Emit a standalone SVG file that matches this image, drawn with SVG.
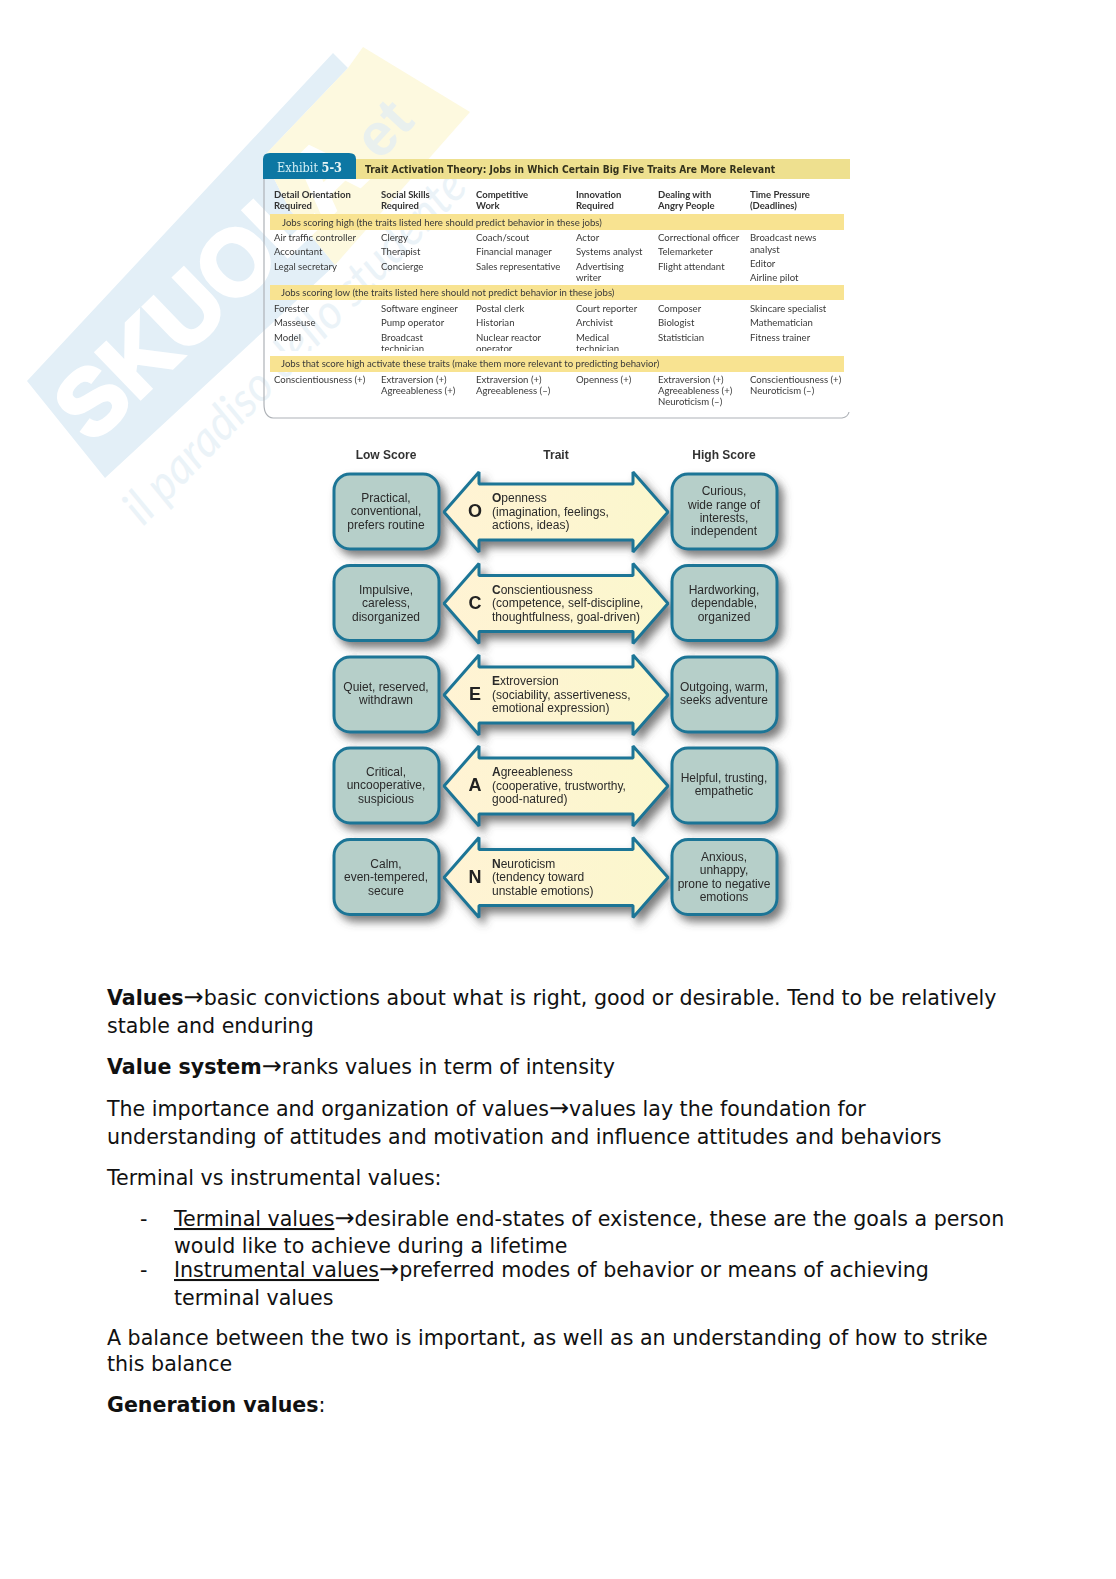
<svg xmlns="http://www.w3.org/2000/svg" width="1116" height="1579" viewBox="0 0 1116 1579">
<style>
.b{font:20.58px "DejaVu Sans",sans-serif;fill:#111}
.bb{font-weight:700}
.u{text-decoration:underline}
.ar{font-size:24px}
.t{font:9.6px Lato,"Liberation Sans",sans-serif;fill:#3a3a3a}
.th{font:bold 9.5px Lato,"Liberation Sans",sans-serif;fill:#333}
.band{fill:#f8e391}
.h{font:bold 12px "Liberation Sans",Arial,sans-serif;fill:#333;text-anchor:middle}
.n{font:12px "Liberation Sans",Arial,sans-serif;fill:#2a2a2a;text-anchor:middle}
.a{font:12px "Liberation Sans",Arial,sans-serif;fill:#2a2a2a}
.f{font-weight:700}
.l{font:bold 18px "Liberation Sans",Arial,sans-serif;fill:#222;text-anchor:middle}
.box{fill:#b6cfc9;stroke:#1c7596;stroke-width:3}
.arr{fill:url(#ag);stroke:#1c7596;stroke-width:3;stroke-linejoin:bevel}
</style>
<defs>
<linearGradient id="ag" x1="0" y1="0" x2="1" y2="0"><stop offset="0" stop-color="#fff3d4"/><stop offset="1" stop-color="#fbf7cd"/></linearGradient>
<filter id="sh" x="-15%" y="-15%" width="140%" height="150%"><feDropShadow dx="5" dy="6" stdDeviation="4" flood-color="#444" flood-opacity=".7"/></filter>
<filter id="soft" x="-5%" y="-5%" width="110%" height="110%"><feGaussianBlur stdDeviation="0.4"/></filter>
<rect id="bx" width="105" height="75" rx="16" class="box"/>
<path id="ar" d="M444 512L479 472V484H633V472L668 512L633 552V540H479V552Z" class="arr"/>
</defs>
<rect width="1116" height="1579" fill="#fff"/>
<g id="watermark">
<polygon points="27,381 333,53 348,68 263,157 290,210 335,265 105,478" fill="#e3eff7"/>
<polygon points="348,68 363,47 470,112 335,265 290,210 263,157" fill="#fdf9df"/>
<text transform="translate(92,445) rotate(-44)" font-family="Liberation Sans,sans-serif" font-weight="700" font-size="92" fill="#fff" stroke="#fff" stroke-width="4">SKUOLA</text>
<text transform="translate(380,162) rotate(-47)" font-family="Liberation Sans,sans-serif" font-weight="700" font-size="60" fill="#e9f0ee">et</text>
<text transform="translate(143,527) rotate(-46)" font-family="Lato,sans-serif" font-style="italic" font-size="48" fill="#ebf3f8" textLength="470" lengthAdjust="spacingAndGlyphs">il paradiso dello studente</text>
</g>
<g id="exhibit" filter="url(#soft)">
<path d="M264 179V404Q264 417 273 418H842Q848 417 849 412" fill="none" stroke="#aeb2b7" stroke-width="1.2"/>
<rect x="356" y="159" width="494" height="20" fill="#eee08f"/>
<path d="M263 179V159Q263 153 270 153H349Q356 153 356 159V179Z" fill="#0f77a3"/>
<text x="277" y="172" font-family="DejaVu Serif,serif" font-size="13" fill="#d3eff5" textLength="65" lengthAdjust="spacingAndGlyphs">Exhibit <tspan font-weight="700" fill="#e8f5f5">5-3</tspan></text>
<text x="365" y="173" font-family="DejaVu Sans,sans-serif" font-weight="700" font-size="11" fill="#33301c" textLength="410" lengthAdjust="spacingAndGlyphs">Trait Activation Theory: Jobs in Which Certain Big Five Traits Are More Relevant</text>
<g class="th">
<text class="th" x="274" y="198">Detail Orientation</text><text class="th" x="274" y="209">Required</text>
<text class="th" x="381" y="198">Social Skills</text><text class="th" x="381" y="209">Required</text>
<text class="th" x="476" y="198">Competitive</text><text class="th" x="476" y="209">Work</text>
<text class="th" x="576" y="198">Innovation</text><text class="th" x="576" y="209">Required</text>
<text class="th" x="658" y="198">Dealing with</text><text class="th" x="658" y="209">Angry People</text>
<text class="th" x="750" y="198">Time Pressure</text><text class="th" x="750" y="209">(Deadlines)</text>
</g>
<text class="t" x="274" y="241">Air traffic controller</text><text class="t" x="274" y="255">Accountant</text><text class="t" x="274" y="270">Legal secretary</text>
<text class="t" x="381" y="241">Clergy</text><text class="t" x="381" y="255">Therapist</text><text class="t" x="381" y="270">Concierge</text>
<text class="t" x="476" y="241">Coach/scout</text><text class="t" x="476" y="255">Financial manager</text><text class="t" x="476" y="270">Sales representative</text>
<text class="t" x="576" y="241">Actor</text><text class="t" x="576" y="255">Systems analyst</text><text class="t" x="576" y="270">Advertising</text><text class="t" x="576" y="281">writer</text>
<text class="t" x="658" y="241">Correctional officer</text><text class="t" x="658" y="255">Telemarketer</text><text class="t" x="658" y="270">Flight attendant</text>
<text class="t" x="750" y="241">Broadcast news</text><text class="t" x="750" y="253">analyst</text><text class="t" x="750" y="267">Editor</text><text class="t" x="750" y="281">Airline pilot</text>
<text class="t" x="274" y="312">Forester</text><text class="t" x="274" y="326">Masseuse</text><text class="t" x="274" y="341">Model</text>
<text class="t" x="381" y="312">Software engineer</text><text class="t" x="381" y="326">Pump operator</text><text class="t" x="381" y="341">Broadcast</text><text class="t" x="381" y="352">technician</text>
<text class="t" x="476" y="312">Postal clerk</text><text class="t" x="476" y="326">Historian</text><text class="t" x="476" y="341">Nuclear reactor</text><text class="t" x="476" y="352">operator</text>
<text class="t" x="576" y="312">Court reporter</text><text class="t" x="576" y="326">Archivist</text><text class="t" x="576" y="341">Medical</text><text class="t" x="576" y="352">technician</text>
<text class="t" x="658" y="312">Composer</text><text class="t" x="658" y="326">Biologist</text><text class="t" x="658" y="341">Statistician</text>
<text class="t" x="750" y="312">Skincare specialist</text><text class="t" x="750" y="326">Mathematician</text><text class="t" x="750" y="341">Fitness trainer</text>
<rect x="265" y="351" width="580" height="5" fill="#fff"/>
<rect class="band" x="270" y="214" width="574" height="16"/>
<rect class="band" x="270" y="285" width="574" height="15"/>
<rect class="band" x="270" y="356" width="574" height="16"/>
<text class="t" x="282" y="226">Jobs scoring high (the traits listed here should predict behavior in these jobs)</text>
<text class="t" x="281" y="296">Jobs scoring low (the traits listed here should not predict behavior in these jobs)</text>
<text class="t" x="281" y="367">Jobs that score high activate these traits (make them more relevant to predicting behavior)</text>
<text class="t" x="274" y="383">Conscientiousness (+)</text>
<text class="t" x="381" y="383">Extraversion (+)</text><text class="t" x="381" y="394">Agreeableness (+)</text>
<text class="t" x="476" y="383">Extraversion (+)</text><text class="t" x="476" y="394">Agreeableness (–)</text>
<text class="t" x="576" y="383">Openness (+)</text>
<text class="t" x="658" y="383">Extraversion (+)</text><text class="t" x="658" y="394">Agreeableness (+)</text><text class="t" x="658" y="405">Neuroticism (–)</text>
<text class="t" x="750" y="383">Conscientiousness (+)</text><text class="t" x="750" y="394">Neuroticism (–)</text>
</g>
<g id="connectors"></g>
<g id="traits" filter="url(#soft)">
<text class="h" x="386" y="459">Low Score</text><text class="h" x="556" y="459">Trait</text><text class="h" x="724" y="459">High Score</text>
<g id="row-o">
<g id="low-o"><use href="#bx" x="334" y="474" filter="url(#sh)"/><text class="n" x="386" y="502">Practical,</text><text class="n" x="386" y="515">conventional,</text><text class="n" x="386" y="529">prefers routine</text></g>
<g id="trait-o"><use href="#ar" filter="url(#sh)"/><text class="l" x="475" y="517">O</text><text class="a" x="492" y="502"><tspan class="f">O</tspan>penness</text><text class="a" x="492" y="515.500">(imagination, feelings,</text><text class="a" x="492" y="529">actions, ideas)</text></g>
<g id="high-o"><use href="#bx" x="672" y="474" filter="url(#sh)"/><text class="n" x="724" y="495">Curious,</text><text class="n" x="724" y="508.500">wide range of</text><text class="n" x="724" y="522">interests,</text><text class="n" x="724" y="535">independent</text></g>
</g>
<g id="row-c" transform="translate(0,91.500)">
<g id="low-c"><use href="#bx" x="334" y="474" filter="url(#sh)"/><text class="n" x="386" y="502">Impulsive,</text><text class="n" x="386" y="515">careless,</text><text class="n" x="386" y="529">disorganized</text></g>
<g id="trait-c"><use href="#ar" filter="url(#sh)"/><text class="l" x="475" y="517">C</text><text class="a" x="492" y="502"><tspan class="f">C</tspan>onscientiousness</text><text class="a" x="492" y="515.500">(competence, self-discipline,</text><text class="a" x="492" y="529">thoughtfulness, goal-driven)</text></g>
<g id="high-c"><use href="#bx" x="672" y="474" filter="url(#sh)"/><text class="n" x="724" y="502">Hardworking,</text><text class="n" x="724" y="515">dependable,</text><text class="n" x="724" y="529">organized</text></g>
</g>
<g id="row-e" transform="translate(0,183)">
<g id="low-e"><use href="#bx" x="334" y="474" filter="url(#sh)"/><text class="n" x="386" y="508">Quiet, reserved,</text><text class="n" x="386" y="521">withdrawn</text></g>
<g id="trait-e"><use href="#ar" filter="url(#sh)"/><text class="l" x="475" y="517">E</text><text class="a" x="492" y="502"><tspan class="f">E</tspan>xtroversion</text><text class="a" x="492" y="515.500">(sociability, assertiveness,</text><text class="a" x="492" y="529">emotional expression)</text></g>
<g id="high-e"><use href="#bx" x="672" y="474" filter="url(#sh)"/><text class="n" x="724" y="508">Outgoing, warm,</text><text class="n" x="724" y="521">seeks adventure</text></g>
</g>
<g id="row-a" transform="translate(0,274)">
<g id="low-a"><use href="#bx" x="334" y="474" filter="url(#sh)"/><text class="n" x="386" y="502">Critical,</text><text class="n" x="386" y="515">uncooperative,</text><text class="n" x="386" y="529">suspicious</text></g>
<g id="trait-a"><use href="#ar" filter="url(#sh)"/><text class="l" x="475" y="517">A</text><text class="a" x="492" y="502"><tspan class="f">A</tspan>greeableness</text><text class="a" x="492" y="515.500">(cooperative, trustworthy,</text><text class="a" x="492" y="529">good-natured)</text></g>
<g id="high-a"><use href="#bx" x="672" y="474" filter="url(#sh)"/><text class="n" x="724" y="508">Helpful, trusting,</text><text class="n" x="724" y="521">empathetic</text></g>
</g>
<g id="row-n" transform="translate(0,365.500)">
<g id="low-n"><use href="#bx" x="334" y="474" filter="url(#sh)"/><text class="n" x="386" y="502">Calm,</text><text class="n" x="386" y="515">even-tempered,</text><text class="n" x="386" y="529">secure</text></g>
<g id="trait-n"><use href="#ar" filter="url(#sh)"/><text class="l" x="475" y="517">N</text><text class="a" x="492" y="502"><tspan class="f">N</tspan>euroticism</text><text class="a" x="492" y="515.500">(tendency toward</text><text class="a" x="492" y="529">unstable emotions)</text></g>
<g id="high-n"><use href="#bx" x="672" y="474" filter="url(#sh)"/><text class="n" x="724" y="495">Anxious,</text><text class="n" x="724" y="508.500">unhappy,</text><text class="n" x="724" y="522">prone to negative</text><text class="n" x="724" y="535">emotions</text></g>
</g>
</g>
<g id="body">
<text class="b" x="107" y="1005"><tspan class="bb">Values</tspan><tspan class="ar">→</tspan>basic convictions about what is right, good or desirable. Tend to be relatively</text>
<text class="b" x="107" y="1033">stable and enduring</text>
<text class="b" x="107" y="1074"><tspan class="bb">Value system</tspan><tspan class="ar">→</tspan>ranks values in term of intensity</text>
<text class="b" x="107" y="1116">The importance and organization of values<tspan class="ar">→</tspan>values lay the foundation for</text>
<text class="b" x="107" y="1144">understanding of attitudes and motivation and influence attitudes and behaviors</text>
<text class="b" x="107" y="1185">Terminal vs instrumental values:</text>
<text class="b" x="140" y="1226">-</text>
<text class="b" x="174" y="1226"><tspan class="u">Terminal values</tspan><tspan class="ar">→</tspan>desirable end-states of existence, these are the goals a person</text>
<text class="b" x="174" y="1253">would like to achieve during a lifetime</text>
<text class="b" x="140" y="1277">-</text>
<text class="b" x="174" y="1277"><tspan class="u">Instrumental values</tspan><tspan class="ar">→</tspan>preferred modes of behavior or means of achieving</text>
<text class="b" x="174" y="1305">terminal values</text>
<text class="b" x="107" y="1345">A balance between the two is important, as well as an understanding of how to strike</text>
<text class="b" x="107" y="1371">this balance</text>
<text class="b" x="107" y="1412"><tspan class="bb">Generation values</tspan>:</text>
</g>
</svg>
